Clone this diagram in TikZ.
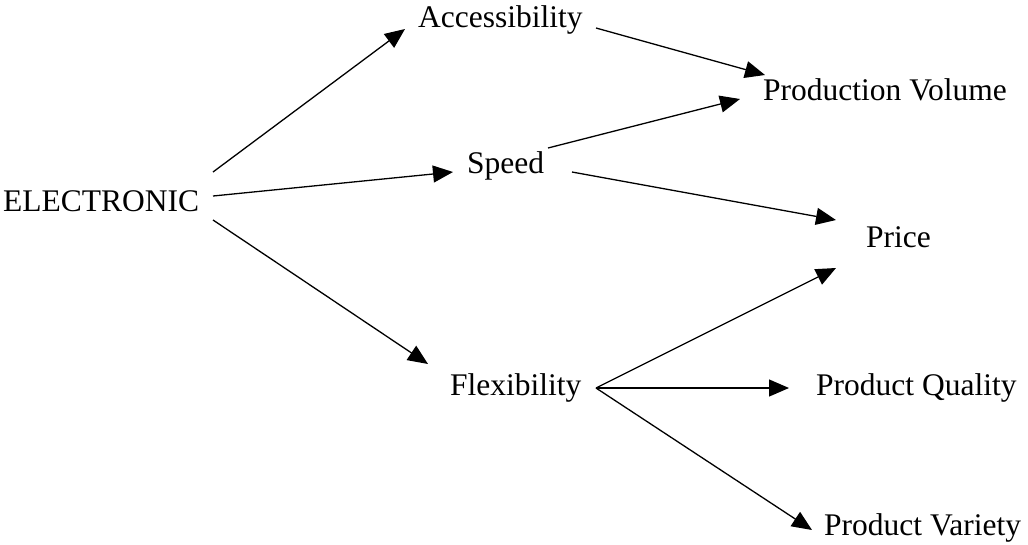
\documentclass[tikz,border=0pt]{standalone}
\usepackage{fontspec}
\setmainfont{Liberation Serif}
\usetikzlibrary{arrows.meta}
\begin{document}
\begin{tikzpicture}[x=1pt,y=-1pt,
  lbl/.style={anchor=base west,inner sep=0pt,font=\fontsize{31.5}{36}\selectfont},
  conn/.style={line width=1.3pt,-{Triangle[length=20pt,width=17pt]}}]
\useasboundingbox (0,0) rectangle (1028,544);
\clip (0,0) rectangle (1028,544);
\fill[white] (0,0) rectangle (1028,544);
% nodes
\node[lbl] (el) at (3,211) {ELECTRONIC};
\node[lbl] (acc) at (418,27) {Accessibility};
\node[lbl] (spd) at (467,173) {Speed};
\node[lbl] (flx) at (450,395) {Flexibility};
\node[lbl] (pv) at (763,100) {Production Volume};
\node[lbl] (pr) at (866,247) {Price};
\node[lbl] (pq) at (816,395) {Product Quality};
\node[lbl] (pvar) at (824,535) {Product Variety};
% connector end points
\coordinate (e1) at (213,172);
\coordinate (e2) at (213,196);
\coordinate (e3) at (213,220);
\coordinate (accT) at (405,29);
\coordinate (spdT) at (453,172);
\coordinate (flxT) at (428,364);
\coordinate (accS) at (596,28);
\coordinate (pvT1) at (765,75);
\coordinate (spdS1) at (548,148);
\coordinate (pvT2) at (740,99);
\coordinate (spdS2) at (572,172);
\coordinate (prT1) at (836,220);
\coordinate (flxS) at (596,388);
\coordinate (prT2) at (836,268);
\coordinate (pqT) at (789,388);
\coordinate (pvarT) at (812,530);
% connectors
\draw[conn] (e1) -- (accT);
\draw[conn] (e2) -- (spdT);
\draw[conn] (e3) -- (flxT);
\draw[conn] (accS) -- (pvT1);
\draw[conn] (spdS1) -- (pvT2);
\draw[conn] (spdS2) -- (prT1);
\draw[conn] (flxS) -- (prT2);
\draw[conn] (flxS) -- (pqT);
\draw[conn] (flxS) -- (pvarT);
\end{tikzpicture}
\end{document}
